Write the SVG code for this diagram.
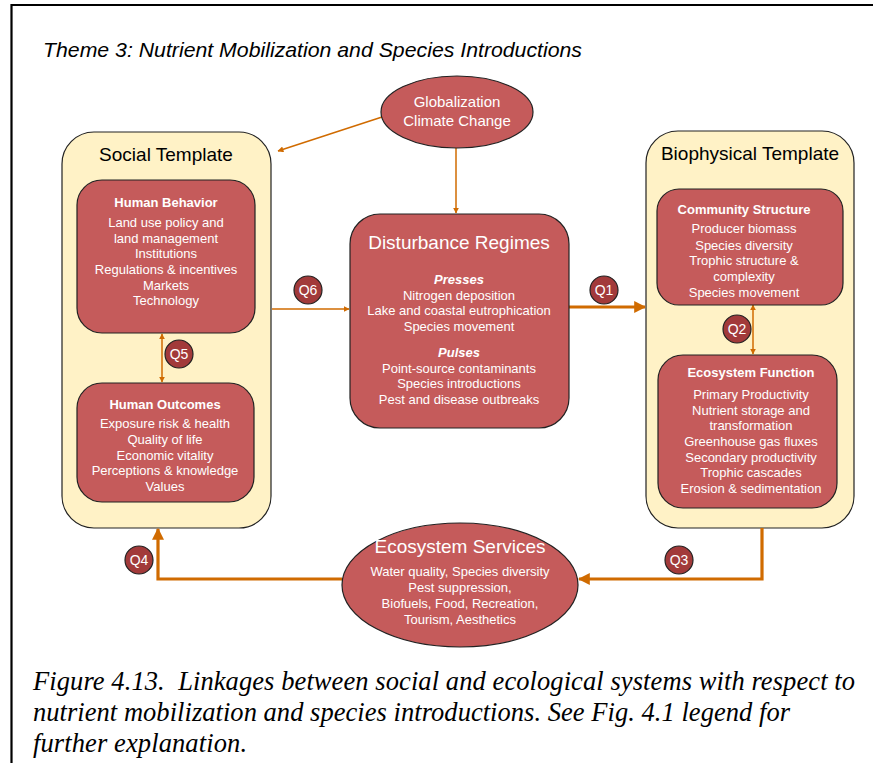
<svg xmlns="http://www.w3.org/2000/svg" width="873" height="763" viewBox="0 0 873 763">
<defs>
<style>
.t{font-family:"Liberation Sans",Arial,sans-serif;fill:#fff;text-anchor:middle}
.tpl{fill:#FFF2C6;stroke:#222;stroke-width:1.2}
.box{fill:#C55B5B;stroke:#222;stroke-width:1.2}
.q{fill:#A23A3A;stroke:#222;stroke-width:1.2}
.hd{font-family:"Liberation Sans",Arial,sans-serif;fill:#000;text-anchor:middle;font-size:19px}
.s13{font-size:13px}
.b{font-weight:bold}
.ln{stroke:#D06B00;fill:none;stroke-width:1.5}
.lnw{stroke:#D06B00;fill:none;stroke-width:3.2}
</style>
<marker id="ah" viewBox="0 0 10 10" refX="9" refY="5" markerWidth="6" markerHeight="6" markerUnits="userSpaceOnUse" orient="auto-start-reverse"><path d="M0,0 L10,5 L0,10 z" fill="#D06B00"/></marker>
<marker id="ahw" viewBox="0 0 10 10" refX="9" refY="5" markerWidth="12" markerHeight="12" markerUnits="userSpaceOnUse" orient="auto"><path d="M0,0 L10,5 L0,10 z" fill="#D06B00"/></marker>
</defs>
<rect width="873" height="763" fill="#fff"/>
<path d="M11.5,763 V5 H873" fill="none" stroke="#000" stroke-width="2.2"/>
<text x="43" y="57" font-family="Liberation Sans,Arial,sans-serif" font-style="italic" font-size="21" textLength="539" lengthAdjust="spacingAndGlyphs" fill="#000">Theme 3: Nutrient Mobilization and Species Introductions</text>

<g id="social-template">
<rect class="tpl" x="62" y="132" width="209" height="396" rx="32"/>
<text class="hd" x="166" y="161">Social Template</text>
</g>
<g id="biophysical-template">
<rect class="tpl" x="646" y="131" width="208" height="397" rx="32"/>
<text class="hd" x="750" y="160">Biophysical Template</text>
</g>

<g id="connectors">
<line class="ln" x1="382" y1="117" x2="278" y2="151" marker-end="url(#ah)"/>
<line class="ln" x1="456" y1="148" x2="456" y2="213" marker-end="url(#ah)"/>
<line class="ln" x1="272" y1="309" x2="349" y2="309" marker-end="url(#ah)"/>
<line class="ln" x1="162" y1="334" x2="162" y2="382" marker-start="url(#ah)" marker-end="url(#ah)"/>
<line class="ln" x1="753" y1="305" x2="753" y2="354" marker-start="url(#ah)" marker-end="url(#ah)"/>
<line class="lnw" x1="569" y1="307" x2="645" y2="307" marker-end="url(#ahw)"/>
<polyline class="lnw" points="762,528 762,579 579,579" marker-end="url(#ahw)"/>
<polyline class="lnw" points="342,579 158,579 158,529" marker-end="url(#ahw)"/>
</g>

<g id="globalization">
<ellipse class="box" cx="457" cy="112" rx="76" ry="36"/>
<text class="t" x="457" y="107" font-size="15">Globalization</text>
<text class="t" x="457" y="126" font-size="15">Climate Change</text>
</g>

<g id="human-behavior">
<rect class="box" x="77" y="180" width="178" height="153" rx="25"/>
<text class="t s13 b" x="166" y="207">Human Behavior</text>
<text class="t s13" x="166" y="227">Land use policy and</text>
<text class="t s13" x="166" y="243">land management</text>
<text class="t s13" x="166" y="258">Institutions</text>
<text class="t s13" x="166" y="274">Regulations &amp; incentives</text>
<text class="t s13" x="166" y="290">Markets</text>
<text class="t s13" x="166" y="305">Technology</text>
</g>

<g id="human-outcomes">
<rect class="box" x="77" y="383" width="177" height="119" rx="25"/>
<text class="t s13 b" x="165" y="409">Human Outcomes</text>
<text class="t s13" x="165" y="428">Exposure risk &amp; health</text>
<text class="t s13" x="165" y="444">Quality of life</text>
<text class="t s13" x="165" y="460">Economic vitality</text>
<text class="t s13" x="165" y="475">Perceptions &amp; knowledge</text>
<text class="t s13" x="165" y="491">Values</text>
</g>

<g id="disturbance-regimes">
<rect class="box" x="350" y="214" width="219" height="214" rx="30"/>
<text class="t" x="459" y="249" font-size="19">Disturbance Regimes</text>
<text class="t s13 b" x="459" y="284" font-style="italic">Presses</text>
<text class="t s13" x="459" y="300">Nitrogen deposition</text>
<text class="t s13" x="459" y="315">Lake and coastal eutrophication</text>
<text class="t s13" x="459" y="331">Species movement</text>
<text class="t s13 b" x="459" y="357" font-style="italic">Pulses</text>
<text class="t s13" x="459" y="373">Point-source contaminants</text>
<text class="t s13" x="459" y="388">Species introductions</text>
<text class="t s13" x="459" y="404">Pest and disease outbreaks</text>
</g>

<g id="community-structure">
<rect class="box" x="657" y="189" width="186" height="116" rx="22"/>
<text class="t s13 b" x="744" y="214">Community Structure</text>
<text class="t s13" x="744" y="233">Producer biomass</text>
<text class="t s13" x="744" y="250">Species diversity</text>
<text class="t s13" x="744" y="265">Trophic structure &amp;</text>
<text class="t s13" x="744" y="281">complexity</text>
<text class="t s13" x="744" y="297">Species movement</text>
</g>

<g id="ecosystem-function">
<rect class="box" x="658" y="355" width="179" height="153" rx="25"/>
<text class="t s13 b" x="751" y="377">Ecosystem Function</text>
<text class="t s13" x="751" y="399">Primary Productivity</text>
<text class="t s13" x="751" y="415">Nutrient storage and</text>
<text class="t s13" x="751" y="430">transformation</text>
<text class="t s13" x="751" y="446">Greenhouse gas fluxes</text>
<text class="t s13" x="751" y="462">Secondary productivity</text>
<text class="t s13" x="751" y="477">Trophic cascades</text>
<text class="t s13" x="751" y="493">Erosion &amp; sedimentation</text>
</g>

<g id="ecosystem-services">
<ellipse class="box" cx="460" cy="585" rx="118" ry="62"/>
<text class="t" x="460" y="553" font-size="19">Ecosystem Services</text>
<text class="t" x="460" y="576" font-size="13">Water quality, Species diversity</text>
<text class="t" x="460" y="592" font-size="13">Pest suppression,</text>
<text class="t" x="460" y="608" font-size="13">Biofuels, Food, Recreation,</text>
<text class="t" x="460" y="624" font-size="13">Tourism, Aesthetics</text>
</g>

<g id="q1"><circle class="q" cx="604" cy="290" r="14"/><text class="t" x="604" y="295" font-size="14">Q1</text></g>
<g id="q2"><circle class="q" cx="737" cy="329" r="14"/><text class="t" x="737" y="334" font-size="14">Q2</text></g>
<g id="q3"><circle class="q" cx="679" cy="560" r="14"/><text class="t" x="679" y="565" font-size="14">Q3</text></g>
<g id="q4"><circle class="q" cx="139" cy="560" r="14"/><text class="t" x="139" y="565" font-size="14">Q4</text></g>
<g id="q5"><circle class="q" cx="179" cy="354" r="14"/><text class="t" x="179" y="359" font-size="14">Q5</text></g>
<g id="q6"><circle class="q" cx="308" cy="290" r="14"/><text class="t" x="308" y="295" font-size="14">Q6</text></g>

<g font-family="Liberation Serif,'Times New Roman',serif" font-style="italic" font-size="26.5" fill="#000">
<text x="33" y="690" textLength="822" xml:space="preserve">Figure 4.13.  Linkages between social and ecological systems with respect to</text>
<text x="33" y="721" textLength="757">nutrient mobilization and species introductions. See Fig. 4.1 legend for</text>
<text x="33" y="752" textLength="214">further explanation.</text>
</g>
</svg>
